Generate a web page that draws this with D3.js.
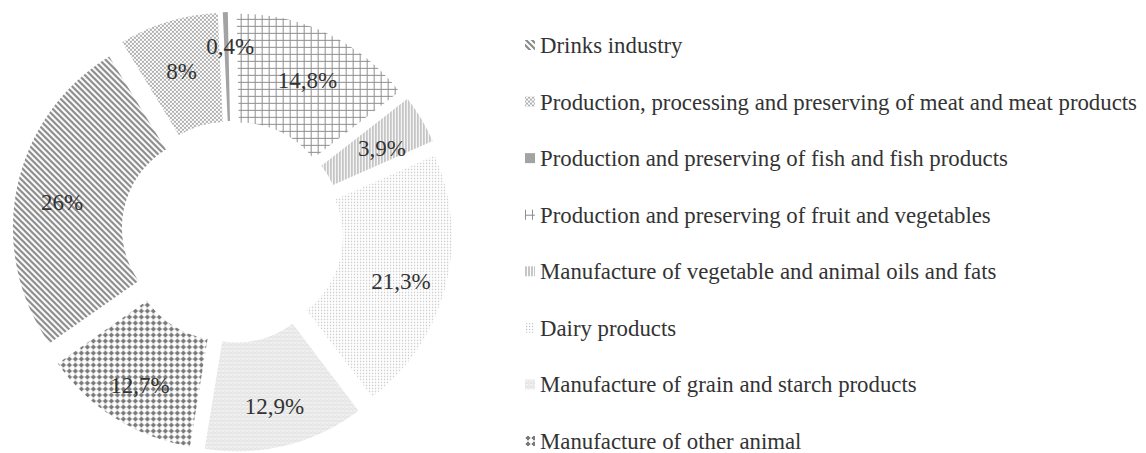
<!DOCTYPE html>
<html>
<head>
<meta charset="utf-8">
<script src="https://cdn.jsdelivr.net/npm/d3@7/dist/d3.min.js"></script>
<style>
  html, body { margin: 0; padding: 0; background: #fff; }
  svg { display: block; }
</style>
</head>
<body>
<svg id="chart" width="1146" height="453"></svg>
<script>
// Food industry sectors and their share (%)
const categories = [
  "Drinks industry",
  "Production, processing and preserving of meat and meat products",
  "Production and preserving of fish and fish products",
  "Production and preserving of fruit and vegetables",
  "Manufacture of vegetable and animal oils and fats",
  "Dairy products",
  "Manufacture of grain and starch products",
  "Manufacture of other animal"
];
const shares = [26, 8, 0.4, 14.8, 3.9, 21.3, 12.9, 12.7];
const shareLabels = ["26%", "8%", "0,4%", "14,8%", "3,9%", "21,3%", "12,9%", "12,7%"];

const FONT = '"Liberation Serif", "Times New Roman", serif';

const svg = d3.select("#chart");
const defs = svg.append("defs");

// Hatch fills, one per sector
function pattern(id, w, h, build) {
  const p = defs.append("pattern")
    .attr("id", id).attr("patternUnits", "userSpaceOnUse")
    .attr("width", w).attr("height", h);
  p.append("rect").attr("width", w).attr("height", h).attr("fill", "#fff");
  build(p);
}
// drinks: "\" diagonal stripes
pattern("p0", 6, 6, p => {
  p.append("path").attr("d", "M-1,-1 L7,7 M-4,2 L2,8 M4,-2 L10,4")
    .attr("stroke", "#8a8a8a").attr("stroke-width", 2.2);
});
// meat: fine diamond lattice
pattern("p1", 4, 4, p => {
  p.append("path").attr("d", "M0,0 L4,4 M4,0 L0,4")
    .attr("stroke", "#b0b0b0").attr("stroke-width", 1);
});
// fish: solid grey
pattern("p2", 4, 4, p => {
  p.append("rect").attr("width", 4).attr("height", 4).attr("fill", "#a3a3a3");
});
// fruit & vegetables: square grid
pattern("p3", 7, 7, p => {
  p.append("path").attr("d", "M0.5,0 L0.5,7 M0,0.5 L7,0.5")
    .attr("stroke", "#8e8e8e").attr("stroke-width", 1);
});
// oils & fats: vertical lines
pattern("p4", 3, 3, p => {
  p.append("path").attr("d", "M1,0 L1,3")
    .attr("stroke", "#8e8e8e").attr("stroke-width", 1);
});
// dairy: sparse fine dots
pattern("p5", 3, 3, p => {
  p.append("rect").attr("x", 1).attr("y", 1).attr("width", 1.2).attr("height", 1.2).attr("fill", "#bdbdbd");
});
// grain & starch: fine zigzag rows
pattern("p6", 4, 4, p => {
  p.append("path").attr("d", "M0,0.5 L2,2.5 L4,0.5 M0,2.5 L2,4.5 L4,2.5")
    .attr("stroke", "#b8b8b8").attr("stroke-width", 0.8).attr("fill", "none");
});
// other animal: dotted plus grid
pattern("p7", 6, 6, p => {
  p.append("path").attr("d", "M3,0.8 L3,5.2 M0.8,3 L5.2,3")
    .attr("stroke", "#7a7a7a").attr("stroke-width", 2.2);
});

const cx = 232.5, cy = 232;
const outerR = 201, innerR = 92, explode = 19, labelR = 155;

const pie = d3.pie().sort(null).value(d => d)
  .startAngle(235 * Math.PI / 180)
  .endAngle((235 + 360) * Math.PI / 180);
const arcs = pie(shares);
const arc = d3.arc().innerRadius(innerR).outerRadius(outerR);

const g = svg.append("g").attr("transform", `translate(${cx},${cy})`);

function offset(d, r) {
  const a = (d.startAngle + d.endAngle) / 2;
  return [Math.sin(a) * r, -Math.cos(a) * r];
}

g.selectAll("path.slice").data(arcs).join("path")
  .attr("class", "slice")
  .attr("d", arc)
  .attr("fill", (d, i) => `url(#p${i})`)
  .attr("transform", d => `translate(${offset(d, explode)})`);

// value labels; a very thin slice gets its label pushed outwards
g.selectAll("text.val").data(arcs).join("text")
  .attr("class", "val")
  .attr("transform", d => {
    const tiny = d.value < 1;
    const [x, y] = offset(d, explode + labelR + (tiny ? 17 : 0));
    return `translate(${x + (tiny ? 4 : 0)},${y})`;
  })
  .attr("text-anchor", "middle")
  .attr("dy", "0.58em")
  .style("font-family", FONT)
  .attr("font-size", 23)
  .attr("fill", "#333")
  .text((d, i) => shareLabels[i]);

// Legend
const legY = d3.scaleLinear().domain([0, categories.length - 1]).range([45, 441]);
const leg = svg.append("g");
const items = leg.selectAll("g").data(categories).join("g")
  .attr("transform", (d, i) => `translate(525,${legY(i)})`);
items.append("rect")
  .attr("x", 0).attr("y", -5).attr("width", 10).attr("height", 10)
  .attr("fill", (d, i) => `url(#p${i})`);
items.append("text")
  .attr("x", 15).attr("dy", "0.35em")
  .style("font-family", FONT)
  .attr("font-size", 22.8)
  .attr("fill", "#333")
  .text(d => d);
</script>
</body>
</html>
